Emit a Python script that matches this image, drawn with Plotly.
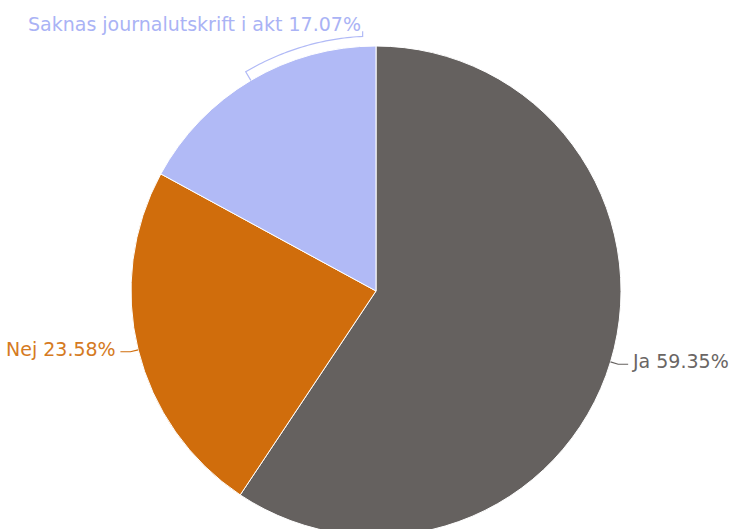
import math
import plotly.graph_objects as go

# Slice data
labels = ["Ja", "Nej", "Saknas journalutskrift i akt"]
values = [59.35, 23.58, 17.07]
colors = ["#65615f", "#d06d0c", "#b1baf6"]
text_colors = ["#6a6664", "#d57a22", "#aab3f5"]

# Canvas and pie geometry (pixels)
W, H = 731, 540
CX, CY, R = 376, 291, 245
FONT = "DejaVu Sans"
FSIZE = 19


def polar(angle_deg, r):
    """Clockwise angle from 12 o'clock -> pixel coordinates."""
    a = math.radians(angle_deg)
    return CX + r * math.sin(a), CY - r * math.cos(a)


fig = go.Figure()
fig.add_trace(go.Pie(
    labels=labels,
    values=values,
    sort=False,
    direction="clockwise",
    rotation=0,
    marker=dict(colors=colors, line=dict(color="white", width=1)),
    textinfo="none",
    hoverinfo="skip",
    showlegend=False,
    domain=dict(x=[(CX - R) / W, (CX + R) / W],
                y=[1 - (CY + R) / H, 1 - (CY - R) / H]),
))

total = sum(values)
start = 0.0
shapes, annotations = [], []
for lab, val, col, tcol in zip(labels, values, colors, text_colors):
    span = 360 * val / total
    mid = start + span / 2
    start += span
    text = f"{lab} {val:.2f}%"
    x0, y0 = polar(mid, R)
    if mid > 300:
        # label above the pie: line hugs the rim up to the label
        pts = [(x0, y0)]
        n = 40
        end_ang = 357
        for i in range(n + 1):
            ang = mid + (end_ang - mid) * i / n
            pts.append(polar(ang, R + 10))
        ex, ey = pts[-1]
        pts.append((ex, ey - 5))
        tx, ty, xa = ex, ey - 12, "right"
    else:
        x1, y1 = polar(mid, R + 8)
        side = 1 if x1 > CX else -1
        x2 = x1 + side * 10
        pts = [(x0, y0), (x1, y1), (x2, y1)]
        tx, ty = x2 + side * 2, y1 - 3
        xa = "left" if side > 0 else "right"
    path = "M " + " L ".join(f"{px:.2f},{py:.2f}" for px, py in pts)
    shapes.append(dict(type="path", path=path, xref="x", yref="y",
                       line=dict(color=col, width=1.2), layer="above"))
    annotations.append(dict(x=tx, y=ty, xref="x", yref="y", text=text,
                            showarrow=False, xanchor=xa, yanchor="middle",
                            font=dict(family=FONT, size=FSIZE, color=tcol)))

fig.update_layout(
    width=W, height=H,
    margin=dict(l=0, r=0, t=0, b=0),
    paper_bgcolor="white", plot_bgcolor="white",
    xaxis=dict(range=[0, W], visible=False, fixedrange=True),
    yaxis=dict(range=[H, 0], visible=False, fixedrange=True),
    shapes=shapes,
    annotations=annotations,
)

fig.write_html(
    "out.html",
    config={"displayModeBar": False, "staticPlot": True},
    post_script="document.body.style.overflow='hidden';"
                "document.documentElement.style.overflow='hidden';",
)
